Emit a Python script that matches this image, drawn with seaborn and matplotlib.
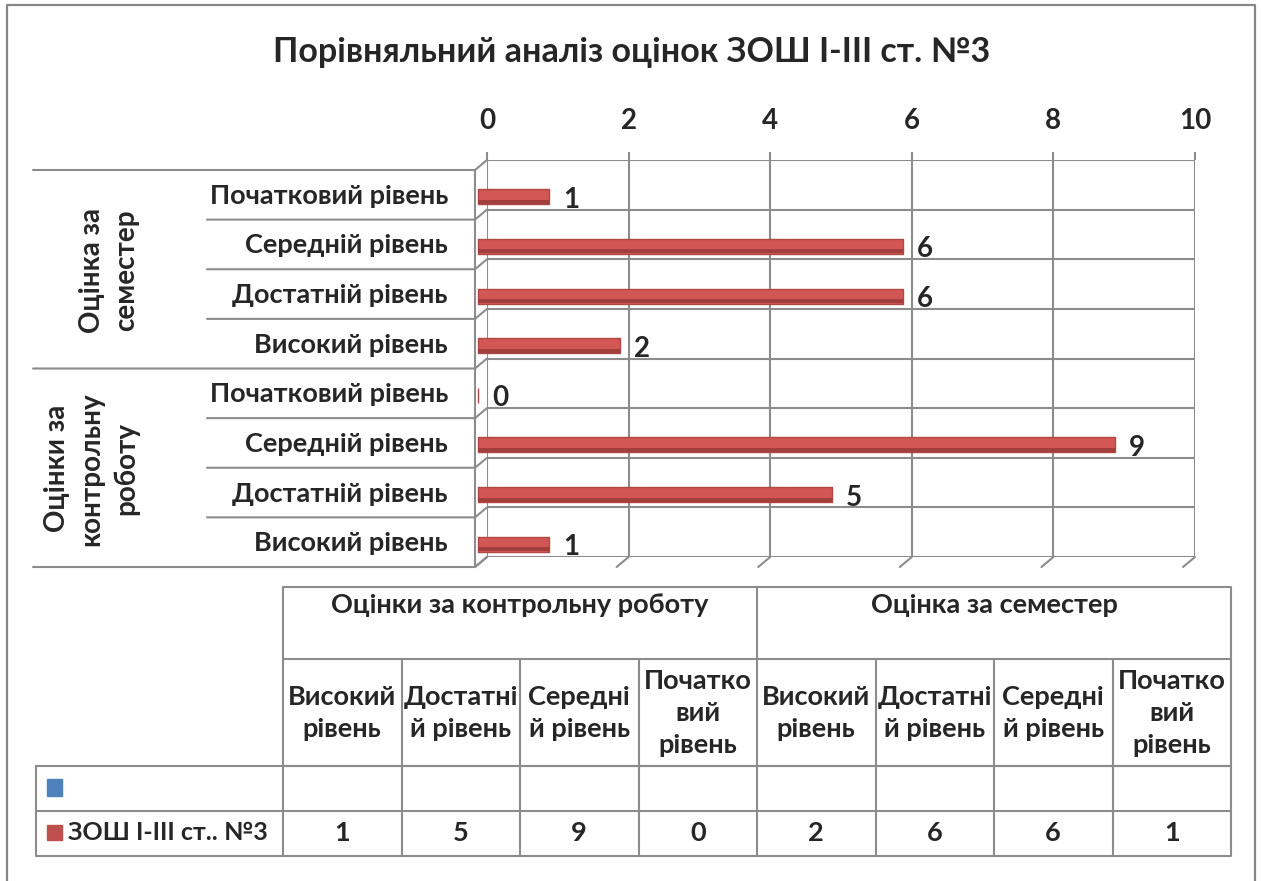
import numpy as np
import pandas as pd
import matplotlib
matplotlib.use("Agg")
import matplotlib.pyplot as plt
import matplotlib.transforms as mtrans
import seaborn as sns

# ---- data (order of the data table under the chart) ----
groups = ["Оцінки за контрольну роботу"] * 4 + ["Оцінка за семестер"] * 4
levels = ["Високий рівень", "Достатній рівень", "Середній рівень", "Початковий рівень"] * 2
values = [1, 5, 9, 0, 2, 6, 6, 1]
table_heads = ["Високий\nрівень", "Достатні\nй рівень", "Середні\nй рівень", "Початко\nвий\nрівень"] * 2
group_names = ["Оцінки за контрольну роботу", "Оцінка за семестер"]
group_wrapped = {"Оцінки за контрольну роботу": "Оцінки за\nконтрольну\nроботу",
                 "Оцінка за семестер": "Оцінка за\nсеместер"}
series_name = "ЗОШ І-ІІІ ст.. №3"
title = "Порівняльний аналіз оцінок ЗОШ І-ІІІ ст. №3"
x_ticks = [0, 2, 4, 6, 8, 10]

df = pd.DataFrame({"group": groups, "level": levels, "value": values})
df["row"] = df["group"] + " | " + df["level"]
chart = df.iloc[::-1].reset_index(drop=True)   # chart rows run top to bottom

sns.set_theme(style="white")
plt.rcParams["font.family"] = ["Lato", "DejaVu Sans"]
plt.rcParams["font.weight"] = "bold"

RED, RED_EDGE, RED_DARK = "#D25653", "#B04845", "#A23E3B"
LEG_RED = "#C0504D"
BLUE = "#4F81BD"
GRID = "#8C8C8C"
FS = 19.5

# ---- layout in pixels ----
W, H = 1261, 881
AX_L, AX_R, AX_T, AX_B = 487, 1195, 160, 557
ROW_H = (AX_B - AX_T) / len(chart)
DX, DY = 12, 10          # depth of the 3D walls
LW = 1.5

fig = plt.figure(figsize=(W / 100, H / 100), dpi=100)
bg = fig.add_axes([0, 0, 1, 1])
bg.set_xlim(0, W)
bg.set_ylim(H, 0)
bg.axis("off")

ax = fig.add_axes([AX_L / W, 1 - AX_B / H, (AX_R - AX_L) / W, (AX_B - AX_T) / H])
ax.set_facecolor("none")

sns.barplot(data=chart, x="value", y="row", order=chart["row"], color=RED,
            saturation=1, width=0.3, edgecolor=RED_EDGE, linewidth=1, ax=ax)
# darker lower band gives the cylinder look
ax.barh(np.arange(len(chart)) + 0.1, chart["value"], height=0.08, color=RED_DARK, linewidth=0)

# bars sit on the front plane of the 3D box
shift = mtrans.ScaledTranslation(-9 / 100, -12 / 100, fig.dpi_scale_trans)
for p in ax.patches:
    p.set_transform(ax.transData + shift)
    p.set_clip_on(False)
    p.set_joinstyle("round")

ax.set_xlim(0, 10)
ax.set_ylim(len(chart) - 0.5, -0.5)
ax.xaxis.tick_top()
ax.set_xticks(x_ticks)
ax.set_xticklabels([str(t) for t in x_ticks], fontsize=20, fontweight="bold")
ax.tick_params(axis="x", length=5.8, width=LW, color=GRID, pad=13)
ax.set_yticks([])
ax.set_yticks(np.arange(-0.5, len(chart)), minor=True)
ax.tick_params(axis="y", which="both", length=0, labelleft=False)
ax.grid(axis="x", which="major", color=GRID, lw=LW)
ax.grid(axis="y", which="minor", color=GRID, lw=LW)
ax.set_axisbelow(True)
for s in ax.spines.values():
    s.set_visible(False)
ax.set_xlabel("")
ax.set_ylabel("")

for i, v in enumerate(chart["value"]):
    ax.annotate(str(v), xy=(v, i), xytext=(5, -15), textcoords="offset pixels",
                ha="left", va="center", fontsize=20, fontweight="bold", annotation_clip=False)

# row labels and group labels
ytrans = mtrans.blended_transform_factory(bg.transData, ax.transData) + \
    mtrans.ScaledTranslation(0, -11 / 100, fig.dpi_scale_trans)
for i, lvl in enumerate(chart["level"]):
    bg.text(448, i, lvl, transform=ytrans, ha="right", va="center", fontsize=FS, fontweight="bold")
for g in group_names:
    idx = chart.index[chart["group"] == g]
    bg.text(139, idx.to_numpy().mean(), group_wrapped[g], transform=ytrans, rotation=90,
            ha="right", va="center", multialignment="center", fontsize=20,
            fontweight="bold", linespacing=1.4)

# 3D walls: left wall separators and floor ticks
wall_x = AX_L - DX
for k in range(len(chart) + 1):
    yb = AX_T + k * ROW_H
    new_group = k == 0 or k == len(chart) or chart["group"][k] != chart["group"][k - 1]
    x0 = 33 if new_group else 207
    bg.plot([x0, wall_x, AX_L], [yb + DY, yb + DY, yb], color=GRID, lw=LW)
bg.plot([wall_x, wall_x], [AX_T + DY, AX_B + DY], color=GRID, lw=LW)
for t in x_ticks:
    xt = AX_L + t / 10 * (AX_R - AX_L)
    bg.plot([xt, xt - DX], [AX_B, AX_B + DY], color=GRID, lw=LW)

# title and outer frame
bg.text(632, 52, title, ha="center", va="center", fontsize=24.5, fontweight="bold")
bg.plot([7, 7, 1255, 1255], [H + 5, 5, 5, H + 5], color="#868686", lw=1.6)

# ---- data table ----
T_L, T_R = 283, 1231
CW = (T_R - T_L) / len(df)
R0, R1, R2, R3, R4 = 587, 659, 766, 811, 856
LEG_L = 36
tk = dict(color=GRID, lw=LW)
bg.plot([T_L, T_R, T_R, T_L, T_L], [R0, R0, R2, R2, R0], **tk)
bg.plot([T_L, T_R], [R1, R1], **tk)
for j in range(1, len(df)):
    xc = T_L + j * CW
    top = R0 if j % 4 == 0 else R1
    bg.plot([xc, xc], [top, R4], **tk)
bg.plot([LEG_L, T_R, T_R, LEG_L, LEG_L], [R2, R2, R4, R4, R2], **tk)
bg.plot([LEG_L, T_R], [R3, R3], **tk)
bg.plot([T_L, T_L], [R2, R4], **tk)

for gi, g in enumerate(group_names):
    bg.text(T_L + (gi * 4 + 2) * CW, 605, g, ha="center", va="center", fontsize=FS, fontweight="bold")
for j, (head, v) in enumerate(zip(table_heads, values)):
    xc = T_L + (j + 0.5) * CW
    bg.text(xc, 713, head, ha="center", va="center", multialignment="center",
            fontsize=FS, fontweight="bold", linespacing=1.4)
    bg.text(xc, 833, str(v), ha="center", va="center", fontsize=FS, fontweight="bold")

bg.add_patch(plt.Rectangle((47, 779), 15, 17, color=BLUE))
bg.add_patch(plt.Rectangle((47, 825), 15, 15, color=LEG_RED))
bg.text(68, 833, series_name, ha="left", va="center", fontsize=18, fontweight="bold")

fig.savefig("out.png", dpi=100)
